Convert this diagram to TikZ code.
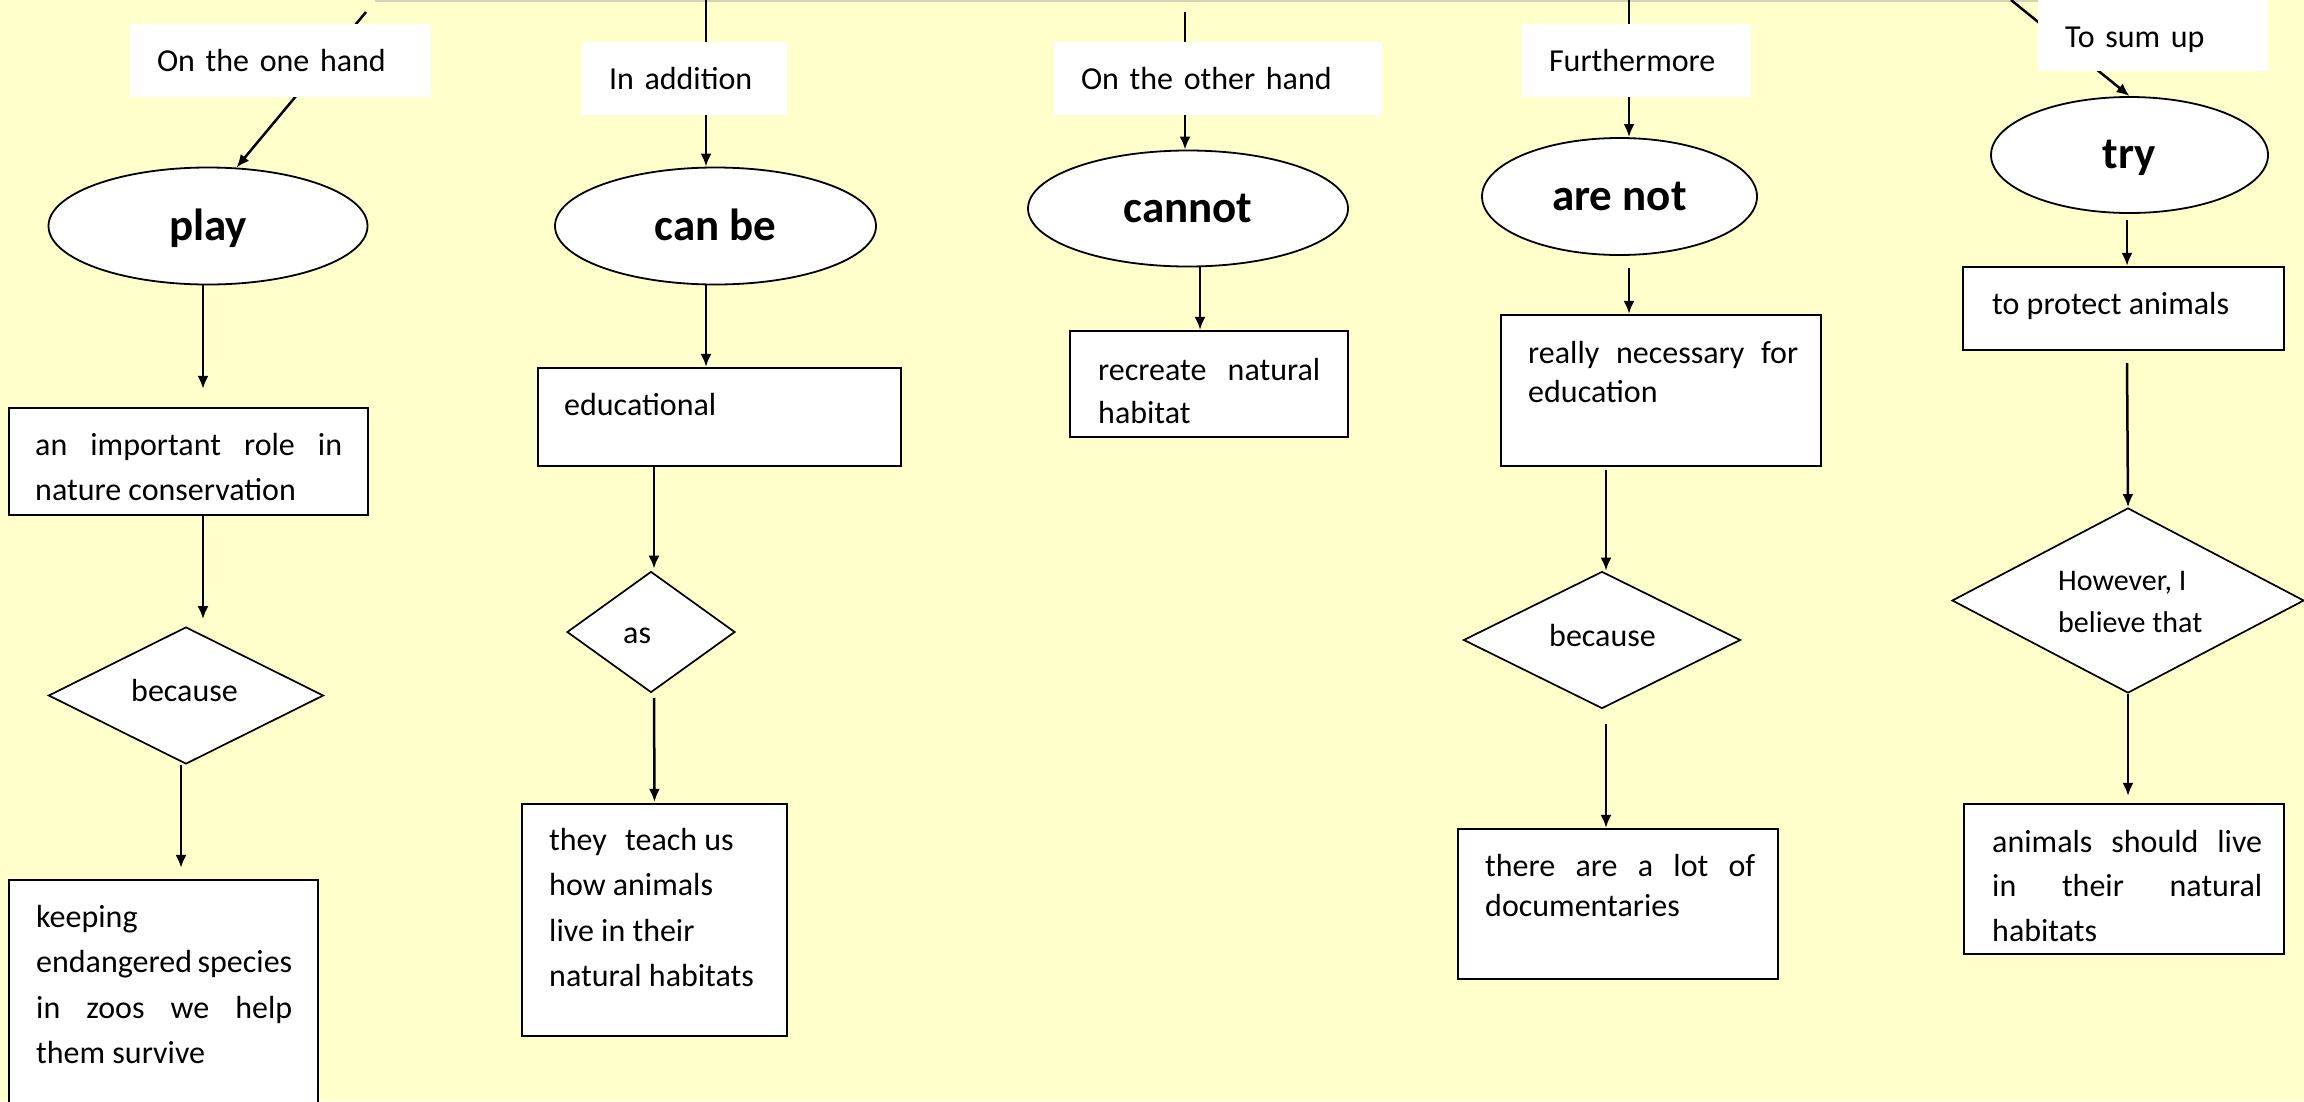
\documentclass[tikz,border=0pt]{standalone}
\usepackage{fontspec}
\setmainfont{Carlito}
\usetikzlibrary{shapes.geometric, arrows.meta}
\definecolor{bgyellow}{RGB}{255,255,204}
\definecolor{topline}{RGB}{212,212,180}
\newcommand{\jl}[2]{\makebox[#1pt][s]{#2}}
\newcommand{\tlines}[1]{\begin{tabular}[t]{@{}l@{}}#1\end{tabular}}
\begin{document}
\begin{tikzpicture}[x=1pt, y=-1pt,
  body/.style={font=\fontsize{32}{45.5}\selectfont},
  lab/.style={fill=white, inner xsep=27pt, inner ysep=0pt, minimum height=73pt, text height=21pt, text depth=0pt, align=left, font=\fontsize{32}{38}\selectfont},
  ell/.style={ellipse, draw=black, line width=1.8pt, fill=white, inner sep=0pt, text height=32pt, text depth=4pt, font=\fontsize{45}{50}\selectfont\bfseries},
  box/.style={rectangle, draw=black, line width=2.2pt, fill=white, inner sep=0pt},
  dia/.style={diamond, draw=black, line width=1.7pt, fill=white, inner sep=0pt},
  txt/.style={anchor=base west, inner sep=0pt, body},
  arr/.style={line width=2.5pt, -{Latex[length=13pt,width=11pt]}},
]
\fill[bgyellow] (0,0) rectangle (2304,1101);
\useasboundingbox (0,0) rectangle (2304,1101);
\clip (0,0) rectangle (2304,1101);

\draw[topline, line width=1.5pt] (375,1) -- (2040,1);

% ellipses
\node[ell, minimum width=319pt, minimum height=117pt] (E1) at (208,226) {play};
\node[ell, minimum width=321pt, minimum height=117pt] (E2) at (715.5,226) {can be};
\node[ell, minimum width=320pt, minimum height=116pt] (E3) at (1188,208.5) {cannot};
\node[ell, minimum width=275pt, minimum height=117pt] (E4) at (1619.5,196.5) {are not};
\node[ell, minimum width=277pt, minimum height=116pt, text height=30pt] (E5) at (2129.5,155) {try};

% boxes
\node[box, minimum width=359pt, minimum height=107pt] (B1) at (188.5,461.5) {};
\node[box, minimum width=309pt, minimum height=240pt] (B2) at (163.5,1000) {};
\node[box, minimum width=363pt, minimum height=98pt] (B3) at (719.5,417) {};
\node[box, minimum width=265pt, minimum height=232pt] (B4) at (654.5,920) {};
\node[box, minimum width=278pt, minimum height=106pt] (B5) at (1209,384) {};
\node[box, minimum width=320pt, minimum height=151pt] (B6) at (1661,390.5) {};
\node[box, minimum width=320pt, minimum height=150pt] (B7) at (1618,904) {};
\node[box, minimum width=321pt, minimum height=83pt] (B8) at (2123.5,308.5) {};
\node[box, minimum width=320pt, minimum height=150pt] (B9) at (2124,879) {};

% diamonds
\node[dia, minimum width=275pt, minimum height=137pt] (D1) at (186,695.5) {};
\node[dia, minimum width=168pt, minimum height=121pt] (D2) at (651,632) {};
\node[dia, minimum width=277pt, minimum height=137pt] (D3) at (1602,640) {};
\node[dia, minimum width=352pt, minimum height=185pt] (D4) at (2128,600.5) {};

% connector start points
\coordinate (s1) at (366,12);
\coordinate (s2) at (706,0);
\coordinate (s3) at (1185,12);
\coordinate (s4) at (1629,0);
\coordinate (s5) at (2011,0);

% connectors
\draw[arr] (s1) -- (E1.64);
\draw[arr] (s2) -- (s2 |- E2.north);
\draw[arr] (s3) -- (s3 |- E3.north);
\draw[arr] (s4) -- (s4 |- E4.north);
\draw[arr] (s5) -- (E5.north);
\draw[arr] ([xshift=-5pt]E1.south) -- ([xshift=14.5pt,yshift=18pt]B1.north);
\draw[arr] ([xshift=14.5pt]B1.south) -- ([xshift=17pt,yshift=7pt]D1.north);
\draw[arr] ([xshift=-5pt]D1.south) -- ([xshift=17.5pt,yshift=11pt]B2.north);
\draw[arr] ([xshift=-9.5pt]E2.south) -- ([xshift=-13.5pt]B3.north);
\draw[arr] ([xshift=-65.5pt]B3.south) -- ([xshift=3pt,yshift=2pt]D2.north);
\draw[arr] ([xshift=3pt,yshift=-4.5pt]D2.south) -- ([yshift=1pt]B4.north);
\draw[arr] ([xshift=12pt]E3.south) -- ([xshift=-9pt]B5.north);
\draw[arr] ([xshift=9.5pt,yshift=-12pt]E4.south) -- ([xshift=-32pt]B6.north);
\draw[arr] ([xshift=-55pt,yshift=-3pt]B6.south) -- ([xshift=4pt]D3.north);
\draw[arr] ([xshift=4pt,yshift=-14.5pt]D3.south) -- ([xshift=-12pt]B7.north);
\draw[arr] ([xshift=-2.5pt,yshift=-6pt]E5.south) -- ([xshift=3.5pt]B8.north);
\draw[arr] ([xshift=3.5pt,yshift=-12pt]B8.south) -- (D4.north);
\draw[arr] (D4.south) -- ([xshift=4pt,yshift=7pt]B9.north);

% labels
\node[lab, text width=247pt] (L1) at (280.5,60.5) {On the one hand};
\node[lab, text width=151pt] (L2) at (684.5,78.5) {In addition};
\node[lab, text width=274pt] (L3) at (1218,78.5) {On the other hand};
\node[lab, text width=175pt] (L4) at (1636.5,60.5) {Furthermore};
\node[lab, text width=176pt, minimum height=76pt, text height=28pt] (L5) at (2153,33) {To sum up};

% texts
\node[txt] (t1) at (35,455) {\tlines{\jl{307}{an important role in}\\nature conservation}};
\node[txt] (t2) at (36,927) {\tlines{keeping\\\jl{256}{endangered species}\\\jl{256}{in zoos we help}\\them survive}};
\node[txt] (t3) at (564,415) {educational};
\node[txt] (t4) at (549,850) {\tlines{they\hspace{11pt} teach us\\how animals\\live in their\\natural habitats}};
\node[txt, font=\fontsize{32}{43}\selectfont] (t5) at (1098,380) {\tlines{\jl{222}{recreate natural}\\habitat}};
\node[txt, font=\fontsize{32}{39}\selectfont] (t6) at (1528,363) {\tlines{\jl{270}{really necessary for}\\education}};
\node[txt, font=\fontsize{32}{40}\selectfont] (t7) at (1485,876) {\tlines{\jl{270}{there are a lot of}\\documentaries}};
\node[txt] (t8) at (1992,314) {to protect animals};
\node[txt, font=\fontsize{32}{44.5}\selectfont] (t9) at (1992,852) {\tlines{\jl{270}{animals should live}\\\jl{270}{in their natural}\\habitats}};
\node[txt] (t10) at (131,701) {because};
\node[txt] (t11) at (623,643) {as};
\node[txt] (t12) at (1549,646) {because};
\node[txt, font=\fontsize{30}{42}\selectfont] (t13) at (2058,590) {\tlines{However, I\\believe that}};
\end{tikzpicture}
\end{document}
